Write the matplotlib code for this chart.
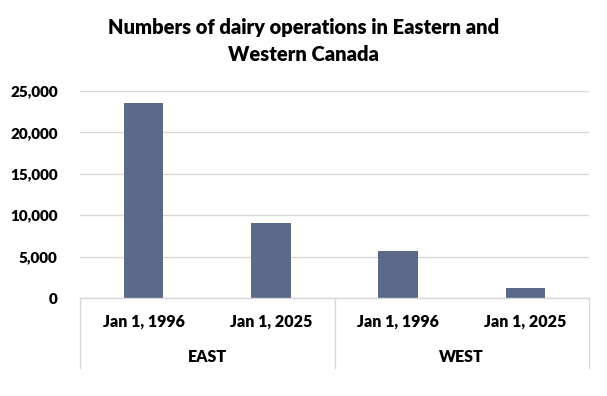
import matplotlib.pyplot as plt
from matplotlib.ticker import FuncFormatter

plt.rcParams['font.family'] = ['Lato', 'DejaVu Sans']

# values
groups = ['EAST', 'WEST']
dates = ['Jan 1, 1996', 'Jan 1, 2025', 'Jan 1, 1996', 'Jan 1, 2025']
operations = [23600, 9050, 5700, 1250]

bar_color = '#5A6A88'
grid_color = '#D9D9D9'
weight = 'heavy'

fig = plt.figure(figsize=(6.07, 3.96), dpi=100)
ax = fig.add_axes([80 / 607, 98 / 396, 509 / 607, 207 / 396])

x = list(range(len(operations)))
ax.bar(x, operations, width=0.31, color=bar_color, zorder=3)

ax.set_xlim(-0.5, len(operations) - 0.5)
ax.set_ylim(0, 25000)
ax.set_yticks(range(0, 25001, 5000))
ax.yaxis.set_major_formatter(FuncFormatter(lambda v, p: f'{int(v):,}'))
ax.tick_params(axis='y', length=0, pad=16, labelsize=11, colors='#000000')
for lbl in ax.get_yticklabels():
    lbl.set_fontweight(weight)
ax.grid(axis='y', color=grid_color, linewidth=1, zorder=0)

for side in ['left', 'right', 'top', 'bottom']:
    ax.spines[side].set_visible(False)
ax.set_xticks([])

# multi-level category axis
trans = ax.get_xaxis_transform()
depth = 70 / 207
ax.plot([-0.5, 3.5], [0, 0], transform=trans, color=grid_color, lw=1,
        clip_on=False, zorder=4)
for xv in [-0.5, 1.5, 3.5]:
    ax.plot([xv, xv], [0, -depth], transform=trans, color=grid_color, lw=1,
            clip_on=False)
for xi, d in zip(x, dates):
    ax.text(xi, -24 / 207, d, transform=trans, ha='center', va='center',
            fontsize=11.5, fontweight=weight)
for gi, g in enumerate(groups):
    ax.text(gi * 2 + 0.5, -59 / 207, g, transform=trans, ha='center',
            va='center', fontsize=11.5, fontweight=weight)

fig.text(0.5, 1 - 41 / 396,
         'Numbers of dairy operations in Eastern and\nWestern Canada',
         ha='center', va='center', fontsize=14.5, fontweight=weight,
         linespacing=1.5)

fig.savefig('out.png', dpi=100)
